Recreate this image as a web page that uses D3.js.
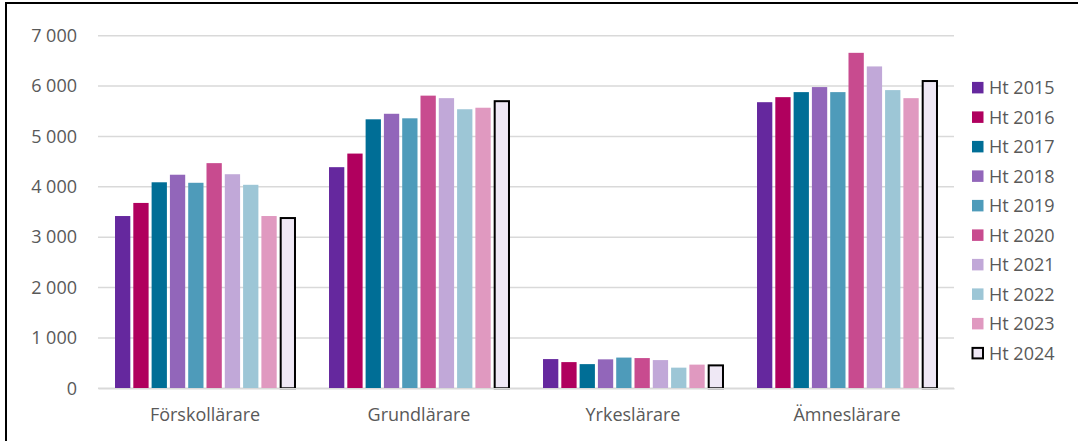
<!DOCTYPE html>
<html>
<head>
<meta charset="utf-8">
<script src="https://cdn.jsdelivr.net/npm/d3@7"></script>
<style>
  body { margin: 0; background: #fff; }
  svg { display: block; font-family: "Open Sans", sans-serif; }
</style>
</head>
<body>
<div id="chart"></div>
<script>
const categories = ["Förskollärare", "Grundlärare", "Yrkeslärare", "Ämneslärare"];
const years = ["Ht 2015", "Ht 2016", "Ht 2017", "Ht 2018", "Ht 2019", "Ht 2020", "Ht 2021", "Ht 2022", "Ht 2023", "Ht 2024"];
const colors = ["#65289e", "#b0005e", "#006e96", "#9266ba", "#4e9bba", "#c84b8f", "#c1a8d8", "#9dc6d6", "#e099c0", "#efe8f5"];

// one array per category, values in year order
const forskollarare = [3420, 3680, 4090, 4240, 4080, 4470, 4250, 4040, 3420, 3380];
const grundlarare   = [4390, 4660, 5340, 5450, 5360, 5810, 5760, 5540, 5570, 5700];
const yrkeslarare   = [580, 520, 480, 575, 610, 600, 560, 410, 470, 455];
const amneslarare   = [5680, 5780, 5880, 5980, 5880, 6660, 6390, 5920, 5760, 6100];
const yTicks = [0, 1000, 2000, 3000, 4000, 5000, 6000, 7000];

const seriesByCat = [forskollarare, grundlarare, yrkeslarare, amneslarare];
const data = categories.map((c, i) => ({
    cat: c,
    values: years.map((y, j) => ({year: y, value: seriesByCat[i][j], idx: j}))
}));

const W = 1078, H = 441;
const svg = d3.select("#chart").append("svg")
    .attr("width", W)
    .attr("height", H);

// frame (the picture is a crop of a bordered figure)
svg.append("rect")
    .attr("x", 6).attr("y", 3)
    .attr("width", W + 10).attr("height", H + 10)
    .attr("fill", "none")
    .attr("stroke", "#000")
    .attr("stroke-width", 2);

const x0 = d3.scaleBand()
    .domain(categories)
    .range([98, 954])
    .paddingInner(0.145)
    .paddingOuter(0.0725);

const x1 = d3.scaleBand()
    .domain(years)
    .range([0, x0.bandwidth()]);

const y = d3.scaleLinear()
    .domain([0, 7000])
    .range([388.3, 35.7]);

const fmt = d => d3.format(",")(d).replace(",", " ");

// gridlines
svg.append("g")
    .selectAll("line")
    .data(yTicks)
    .enter()
    .append("line")
    .attr("x1", 98).attr("x2", 954)
    .attr("y1", d => y(d)).attr("y2", d => y(d))
    .attr("stroke", "#d9d9d9")
    .attr("stroke-width", 1.5);

// y axis labels
const yAxis = svg.append("g")
    .attr("transform", "translate(80,0)")
    .call(d3.axisLeft(y).tickValues(yTicks).tickFormat(fmt).tickSize(0).tickPadding(3));
yAxis.select(".domain").remove();
yAxis.selectAll("text")
    .attr("font-size", 18)
    .attr("font-family", "Open Sans, sans-serif")
    .attr("fill", "#595959");

// bars
const groups = svg.append("g")
    .selectAll("g")
    .data(data)
    .enter()
    .append("g")
    .attr("transform", d => `translate(${x0(d.cat)},0)`);

groups.selectAll("rect")
    .data(d => d.values)
    .enter()
    .append("rect")
    .attr("x", d => x1(d.year) + (d.idx === 9 ? 2.5 : 1.5))
    .attr("width", d => x1.bandwidth() - (d.idx === 9 ? 4 : 3))
    .attr("y", d => y(d.value))
    .attr("height", d => y(0) - y(d.value))
    .attr("fill", d => colors[d.idx])
    .attr("stroke", d => d.idx === 9 ? "#000" : "none")
    .attr("stroke-width", 2);

// x axis
const xAxis = svg.append("g")
    .attr("transform", `translate(0,${y(0)})`)
    .call(d3.axisBottom(x0).tickSize(0).tickPadding(20));
xAxis.select(".domain")
    .attr("stroke", "#d9d9d9")
    .attr("stroke-width", 1.5);
xAxis.selectAll("text")
    .attr("font-size", 18)
    .attr("font-family", "Open Sans, sans-serif")
    .attr("fill", "#595959");

// legend
const legend = svg.append("g")
    .selectAll("g")
    .data(years)
    .enter()
    .append("g")
    .attr("transform", (d, i) => `translate(972,${87.7 + i * 29.5})`);

legend.append("rect")
    .attr("x", (d, i) => i === 9 ? 0.5 : 0)
    .attr("y", (d, i) => i === 9 ? -5.3 : -5.8)
    .attr("width", (d, i) => i === 9 ? 10.5 : 11.5)
    .attr("height", (d, i) => i === 9 ? 10.5 : 11.5)
    .attr("fill", (d, i) => colors[i])
    .attr("stroke", (d, i) => i === 9 ? "#000" : "none")
    .attr("stroke-width", 2);

legend.append("text")
    .attr("x", 17)
    .attr("dy", "0.36em")
    .attr("font-size", 18)
    .attr("fill", "#595959")
    .text(d => d);
</script>
</body>
</html>
